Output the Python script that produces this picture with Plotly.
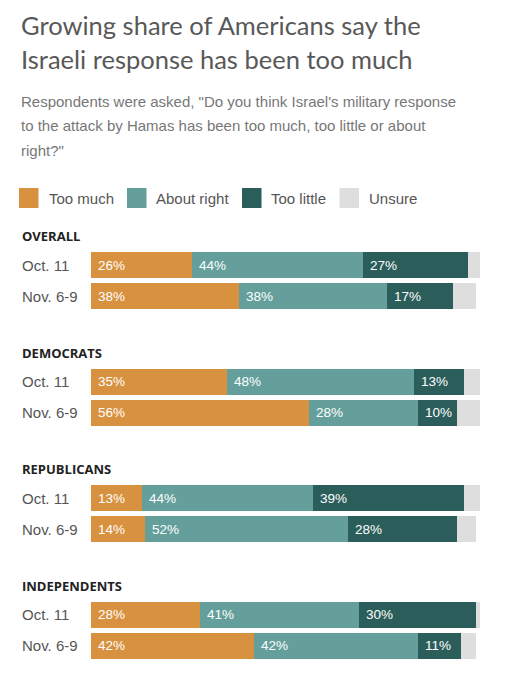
import plotly.graph_objects as go

# ---- data ----
groups = ["OVERALL", "DEMOCRATS", "REPUBLICANS", "INDEPENDENTS"]
periods = ["Oct. 11", "Nov. 6-9"]
too_much = [26, 38, 35, 56, 13, 14, 28, 42]
about_right = [44, 38, 48, 28, 44, 52, 41, 42]
too_little = [27, 17, 13, 10, 39, 28, 30, 11]
unsure = [3, 6, 4, 6, 5, 5, 1, 4]

series_names = ["Too much", "About right", "Too little", "Unsure"]
series_vals = [too_much, about_right, too_little, unsure]
colors = ["#D8913F", "#659F9C", "#2B5E5A", "#DEDEDE"]
label_series = [True, True, True, False]

W, H = 505, 680
X0, X1 = 91, 480           # pixel span of 0..100 %
GROUP_TOP = 236            # header center of first group
GROUP_STEP = 116.5
ROW_OFF = [29, 60]         # bar centers relative to header
BAR_H = 26

def px(x):
    return x / W

def py(y):
    return 1 - y / H

# row positions (pixel y, used on a reversed pixel axis)
row_y = []
row_lab = []
for g in range(len(groups)):
    for r in range(len(periods)):
        row_y.append(GROUP_TOP + g * GROUP_STEP + ROW_OFF[r])
        row_lab.append(periods[r])

fig = go.Figure()
bases = [0] * len(row_y)
annotations = []
for name, vals, col, lab in zip(series_names, series_vals, colors, label_series):
    fig.add_trace(go.Bar(
        x=vals, y=row_y, base=bases, orientation="h", name=name,
        marker=dict(color=col, line=dict(width=0)), width=BAR_H,
        showlegend=False, hoverinfo="skip",
    ))
    if lab:
        for b, v, yy in zip(bases, vals, row_y):
            annotations.append(dict(
                x=b, y=yy, xref="x", yref="y", text=f"{v}%", showarrow=False,
                xanchor="left", yanchor="middle", xshift=5,
                font=dict(family="Liberation Sans, Arial", size=13.5, color="white"),
            ))
    bases = [b + v for b, v in zip(bases, vals)]

# title
annotations.append(dict(x=px(19), y=py(25), xref="paper", yref="paper", showarrow=False,
                        xanchor="left", yanchor="middle",
                        text="Growing share of Americans say the",
                        font=dict(family="Lato", size=25.5, color="#585858")))
annotations.append(dict(x=px(19), y=py(59), xref="paper", yref="paper", showarrow=False,
                        xanchor="left", yanchor="middle",
                        text="Israeli response has been too much",
                        font=dict(family="Lato", size=25.5, color="#585858")))
sub_lines = ["Respondents were asked, \"Do you think Israel's military response",
             "to the attack by Hamas has been too much, too little or about",
             "right?\""]
for i, t in enumerate(sub_lines):
    annotations.append(dict(x=px(19), y=py(101 + i * 24.5), xref="paper", yref="paper",
                            showarrow=False, xanchor="left", yanchor="middle", text=t,
                            font=dict(family="Liberation Sans, Arial", size=15, color="#777777")))

# legend (drawn)
shapes = []
leg_sq_x = [19, 127, 242, 339.5]
leg_txt_x = [46.5, 154, 269, 366.5]
for sx, tx, name, col in zip(leg_sq_x, leg_txt_x, series_names, colors):
    shapes.append(dict(type="rect", xref="paper", yref="paper",
                       x0=px(sx), x1=px(sx + 19.5), y0=py(208), y1=py(188),
                       fillcolor=col, line=dict(width=0)))
    annotations.append(dict(x=px(tx), y=py(198), xref="paper", yref="paper", showarrow=False,
                            xanchor="left", yanchor="middle", text=name,
                            font=dict(family="Liberation Sans, Arial", size=15, color="#555555")))

# group headers & row labels
for g, name in enumerate(groups):
    annotations.append(dict(x=px(20), y=GROUP_TOP + g * GROUP_STEP, xref="paper", yref="y",
                            showarrow=False, xanchor="left", yanchor="middle",
                            text=f"<b>{name}</b>",
                            font=dict(family="Open Sans", size=13, color="#222222")))
for yy, lab in zip(row_y, row_lab):
    annotations.append(dict(x=px(20), y=yy, xref="paper", yref="y", showarrow=False,
                            xanchor="left", yanchor="middle", text=lab,
                            font=dict(family="Liberation Sans, Arial", size=15, color="#555555")))

fig.update_layout(
    width=W, height=H, margin=dict(l=0, r=0, t=0, b=0),
    paper_bgcolor="white", plot_bgcolor="white",
    barmode="overlay", bargap=0,
    xaxis=dict(range=[0, 100], domain=[px(X0), px(X1)], visible=False, fixedrange=True),
    yaxis=dict(range=[H, 0], domain=[0, 1], visible=False, fixedrange=True),
    annotations=annotations, shapes=shapes, showlegend=False,
)

fig.write_html("out.html", config={"displayModeBar": False},
               post_script="document.body.style.margin='0';document.body.style.overflow='hidden';")
